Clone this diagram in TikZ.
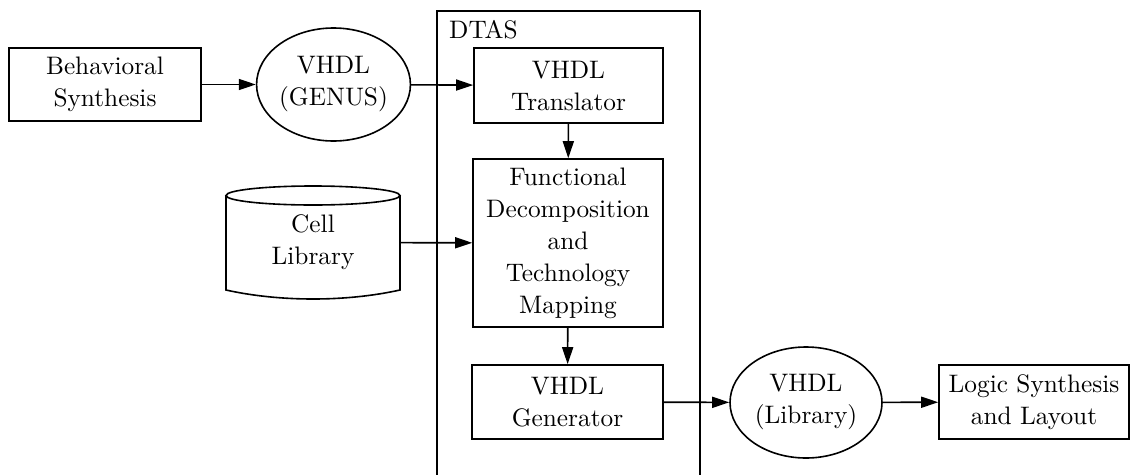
\documentclass[tikz,border=0pt]{standalone}
\usepackage{fontspec}
\setmainfont{lmroman10-regular.otf}
\usetikzlibrary{arrows.meta,shapes.geometric}
\begin{document}
\begin{tikzpicture}[x=1pt,y=-1pt,
  every node/.style={font=\fontsize{25.3}{32}\selectfont, align=center},
  box/.style={draw, line width=1.6pt, rectangle, inner sep=0pt},
  oval/.style={draw, line width=1.6pt, ellipse, inner sep=0pt},
  conn/.style={line width=1.6pt, -{Triangle[length=17pt,width=11pt]}},
  frame/.style={line width=1.6pt}]
\useasboundingbox (0,0) rectangle (1131,474);
% DTAS container
\draw[frame] (437,480) |- (700,11) -- (700,480);
\node[anchor=base west, inner sep=0pt] (dtas) at (449,38) {DTAS};
% nodes
\node[box, minimum width=192pt, minimum height=73pt] (beh) at (105,84.5) {Behavioral\\Synthesis};
\node[oval, minimum width=153pt, minimum height=113pt] (genus) at (333.5,84.5) {VHDL\\(GENUS)};
\node[box, minimum width=189pt, minimum height=75pt] (trans) at (568.5,85.5) {VHDL\\Translator};
\node[box, minimum width=190pt, minimum height=168pt] (func) at (568,243) {Functional\\Decomposition\\and\\Technology\\Mapping};
\node[box, minimum width=191pt, minimum height=74pt] (gen) at (567.5,402) {VHDL\\Generator};
\node[oval, minimum width=152pt, minimum height=111pt] (lib) at (806,402.5) {VHDL\\(Library)};
\node[box, minimum width=190pt, minimum height=74pt] (logic) at (1034,402) {Logic Synthesis\\and Layout};
% cylinder
\node[inner sep=0pt, minimum width=174pt, minimum height=113pt] (cell) at (313,242.5) {Cell\\Library};
\draw[frame] (313,195.5) ellipse [x radius=87, y radius=9.5];
\draw[frame] (226,195.5) -- (226,290) .. controls (280,302) and (346,302) .. (400,290) -- (400,195.5);
% connectors
\draw[conn] (beh) -- (genus);
\draw[conn] (genus) -- (trans);
\draw[conn] (trans) -- (func);
\draw[conn] (cell) -- (func);
\draw[conn] (func) -- (gen);
\draw[conn] (gen) -- (lib);
\draw[conn] (lib) -- (logic);
\end{tikzpicture}
\end{document}
